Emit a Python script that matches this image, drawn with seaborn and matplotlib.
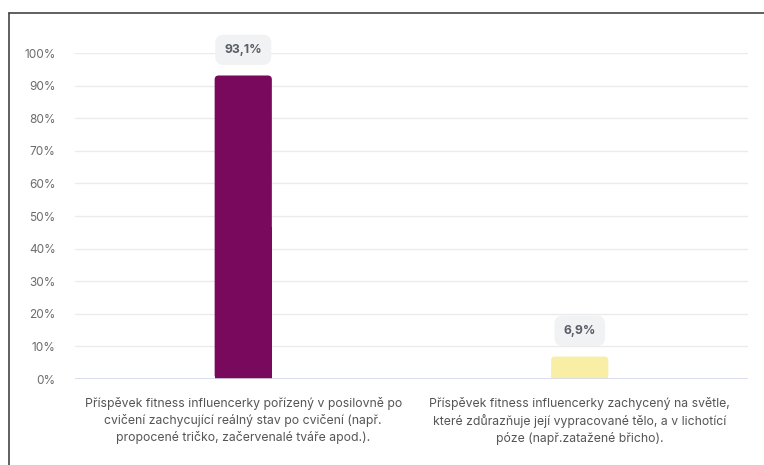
import matplotlib
matplotlib.use("Agg")
import matplotlib.pyplot as plt
from matplotlib.patches import FancyBboxPatch
from matplotlib.lines import Line2D
import seaborn as sns
import pandas as pd

categories = [
    "Příspěvek fitness influencerky pořízený v posilovně po\ncvičení zachycující reálný stav po cvičení (např.\npropocené tričko, začervenalé tváře apod.).",
    "Příspěvek fitness influencerky zachycený na světle,\nkteré zdůrazňuje její vypracované tělo, a v lichotící\npóze (např.zatažené břicho).",
]
values = [93.1, 6.9]
value_labels = ["93,1%", "6,9%"]
bar_colors = ["#78095c", "#f8eea6"]
y_ticks = [0, 10, 20, 30, 40, 50, 60, 70, 80, 90, 100]
y_tick_labels = [f"{t}%" for t in y_ticks]

sns.set_theme(style="white")
plt.rcParams["font.family"] = ["Inter", "DejaVu Sans"]

df = pd.DataFrame({"category": categories, "value": values})

fig = plt.figure(figsize=(7.64, 4.65), dpi=100)
ax = fig.add_axes([75 / 764, 1 - 379 / 465, (748 - 75) / 764, (379 - 53) / 465])

sns.barplot(data=df, x="category", y="value", hue="category",
            palette=bar_colors, saturation=1, width=0.17, legend=False,
            ax=ax, zorder=3)

ax.set_ylim(0, 100)

# give the bars slightly rounded top corners (4 px radius)
fig.canvas.draw()
bbox = ax.get_window_extent()
x_per_px = (ax.get_xlim()[1] - ax.get_xlim()[0]) / bbox.width
y_per_px = (ax.get_ylim()[1] - ax.get_ylim()[0]) / bbox.height
radius_x = 4 * x_per_px
for p in list(ax.patches):
    x0, y0, w, h = p.get_x(), p.get_y(), p.get_width(), p.get_height()
    fc = p.get_facecolor()
    p.remove()
    ax.add_patch(FancyBboxPatch((x0, y0), w, h,
                                boxstyle=f"round,pad=0,rounding_size={radius_x}",
                                mutation_aspect=y_per_px / x_per_px,
                                fc=fc, ec="none", zorder=3))
    # square off the bottom corners
    ax.add_patch(plt.Rectangle((x0, y0), w, h * 0.5, fc=fc, ec="none", zorder=3))

ax.set_yticks(y_ticks)
ax.set_yticklabels(y_tick_labels, fontsize=8.5, color="#6b6b6b")
ax.set_xlabel("")
ax.set_ylabel("")
ax.tick_params(axis="x", labelsize=8.8, labelcolor="#555555", pad=13, length=0)
ax.tick_params(axis="y", length=0, pad=14)
for lbl in ax.get_xticklabels():
    lbl.set_linespacing(1.4)

ax.grid(axis="y", color="#ebebeb", linewidth=1, zorder=0)
for s in ax.spines.values():
    s.set_visible(False)
ax.axhline(0, color="#d5daec", linewidth=1.2, zorder=4)

# value labels in rounded boxes above the bars
for i, (v, txt) in enumerate(zip(values, value_labels)):
    ax.annotate(txt, xy=(i, v), xytext=(0, 18.5), textcoords="offset points",
                ha="center", va="center", fontsize=8.8, fontweight="bold",
                color="#5a5e66", zorder=5, annotation_clip=False,
                bbox=dict(boxstyle="round,pad=0.75,rounding_size=0.7",
                          fc="#f1f2f3", ec="none"))

# frame lines along top and left edges of the figure
fig.add_artist(Line2D([9 / 764, 9 / 764], [0, 1 - 13 / 465], color="#444444", linewidth=1.2,
                      transform=fig.transFigure))
fig.add_artist(Line2D([9 / 764, 1], [1 - 13 / 465, 1 - 13 / 465], color="#444444", linewidth=1.2,
                      transform=fig.transFigure))

fig.savefig("out.png", dpi=100, facecolor="white")
